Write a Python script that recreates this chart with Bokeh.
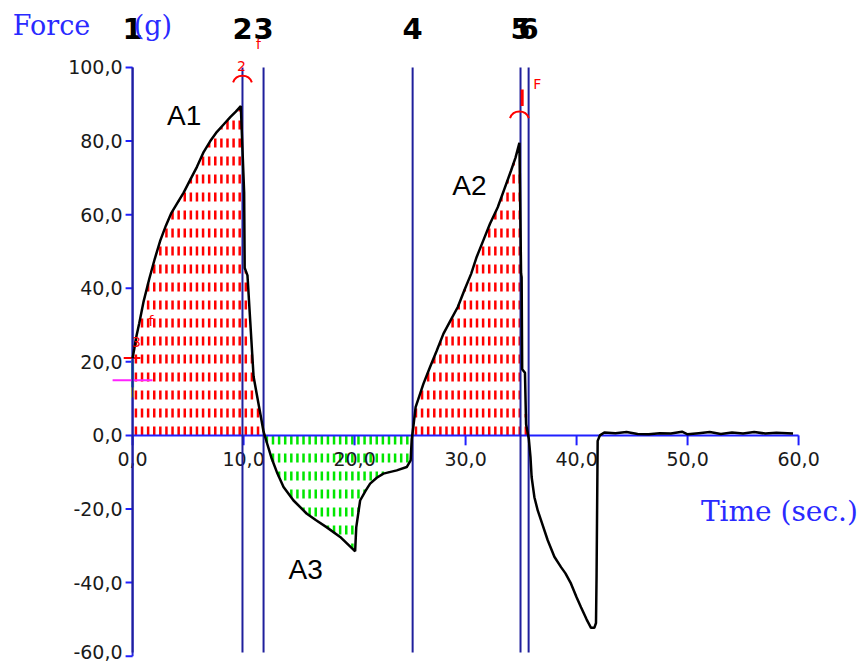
import numpy as np
from bokeh.plotting import figure
from bokeh.core.properties import value
from bokeh.embed import file_html
from bokeh.resources import INLINE

# ---- data -------------------------------------------------------------
time = [0.0, 0.15, 0.35, 0.6, 1.0, 1.5, 2.0, 2.5, 3.0, 3.5, 4.0, 4.6, 5.2, 5.8,
        6.4, 7.0, 7.6, 8.2, 8.8, 9.3, 9.75, 10.05, 10.1, 10.35, 10.6, 10.9, 11.2,
        11.5, 11.8, 12.1, 12.5, 13.0, 13.6, 14.5, 15.7, 16.5, 17.5, 18.7, 19.8,
        20.05, 20.15, 20.5, 21.0, 21.4, 22.0, 22.6, 23.8, 24.7, 25.05, 25.15,
        25.3, 25.5, 26.2, 26.8, 27.4, 28.0, 28.6, 29.3, 29.9, 30.5, 31.0, 31.6,
        32.2, 32.9, 33.5, 34.1, 34.5, 34.85, 35.0, 35.05, 35.1, 35.35, 35.45,
        35.7, 35.85, 35.95, 36.2, 36.5, 36.9, 37.4, 38.0, 38.6, 39.0, 39.5, 40.0,
        40.4, 40.9, 41.3, 41.6, 41.75, 41.8, 41.9, 42.1, 42.5, 43.5, 44.5, 45.5,
        46.5, 47.5, 48.5, 49.5, 50.0, 51.0, 52.0, 53.0, 54.0, 55.0, 56.0, 57.0,
        58.0, 59.5]
force = [21.0, 23.5, 27.0, 30.5, 36.5, 42.5, 48.0, 53.0, 57.0, 60.5, 63.0, 66.0,
         69.5, 73.0, 77.0, 80.0, 82.5, 84.5, 86.5, 88.0, 89.5, 66.0, 45.5, 43.5,
         31.0, 16.0, 11.0, 6.0, 1.0, -2.0, -6.0, -10.0, -14.0, -17.7, -21.3,
         -23.0, -25.0, -27.6, -30.8, -31.5, -25.0, -17.7, -15.0, -13.1, -11.5,
         -10.4, -9.5, -8.6, -6.8, -1.0, 2.5, 7.7, 14.0, 18.6, 23.0, 27.6, 31.0,
         34.9, 39.5, 43.9, 48.5, 53.0, 57.5, 62.0, 67.0, 72.0, 75.5, 79.5, 44.0,
         43.0, 18.0, 17.0, 3.0, -1.0, -6.0, -11.3, -16.8, -20.4, -24.0, -28.5,
         -33.0, -35.8, -37.5, -40.3, -44.0, -46.7, -50.0, -52.3, -52.3, -51.0,
         -38.5, -1.5, 0.0, 0.8, 0.6, 0.9, 0.4, 0.3, 0.6, 0.5, 1.0, 0.3, 0.6, 0.9,
         0.4, 0.8, 0.5, 0.9, 0.5, 0.7, 0.5]

cursor_t = [0.0, 9.9, 11.8, 25.23, 34.95, 35.68]
cursor_names = ["1", "2", "3", "4", "5", "6"]

y_ticks = [-60, -40, -20, 0, 20, 40, 60, 80, 100]
y_tick_labels = ["-60,0", "-40,0", "-20,0", "0,0", "20,0", "40,0", "60,0", "80,0", "100,0"]
x_ticks = [0, 10, 20, 30, 40, 50, 60]
x_tick_labels = ["0,0", "10,0", "20,0", "30,0", "40,0", "50,0", "60,0"]

area_names = ["A1", "A2", "A3"]
area_t = [3.1, 28.8, 14.05]
area_f = [87.0, 67.9, -36.4]

mark_text = ["2", "f", "F", "3", "f"]
mark_t = [9.8, 11.35, 36.45, 0.35, 1.65]
mark_f = [100.5, 106.5, 95.5, 25.5, 31.0]

AXIS_BLUE = "#2020ff"
TEXT_BLUE = "#2a2aff"

# ---- figure (frame fills the whole page) ------------------------------
p = figure(width=862, height=663, x_range=(-11.9, 65.76), y_range=(-62.0, 118.2),
           output_backend="svg", toolbar_location=None, x_axis_location=None,
           y_axis_location=None, min_border=0)
p.grid.visible = False
p.outline_line_color = None
p.background_fill_color = "white"

# ---- hatching of the areas -------------------------------------------
def hatch(t0, t1, sign):
    xs = np.arange(t0 + 0.3, t1, 0.55)
    tops = np.interp(xs, time, force)
    keep = tops * sign > 0
    return xs[keep], tops[keep]

for (i0, i1, sign, col) in [(0, 2, 1, "#ff0000"), (3, 5, 1, "#ff0000"),
                            (2, 3, -1, "#00e600")]:
    hx, ht = hatch(cursor_t[i0], cursor_t[i1], sign)
    p.segment(x0=hx, y0=0, x1=hx, y1=ht, line_color=col, line_width=2.5,
              line_dash="9 9")

# ---- y axis at t = 0 --------------------------------------------------
p.segment(x0=[0], y0=[y_ticks[0]], x1=[0], y1=[y_ticks[-1]],
          line_color="#2b2bd6", line_width=2)
p.segment(x0=0, y0=y_ticks, x1=-0.63, y1=y_ticks, line_color=AXIS_BLUE,
          line_width=2)
label_shift = [-4 if t == y_ticks[0] else 0 for t in y_ticks]
p.text(x=0, y=y_ticks, text=y_tick_labels, text_font=value("DejaVu Sans"),
       text_font_size="19px", text_color="#1a1a1a", text_align="right",
       text_baseline="middle", x_offset=-10, y_offset=label_shift)

# ---- x axis drawn at zero --------------------------------------------
p.segment(x0=[x_ticks[0]], y0=[0], x1=[x_ticks[-1]], y1=[0],
          line_color=AXIS_BLUE, line_width=2)
p.segment(x0=x_ticks, y0=0, x1=x_ticks, y1=-2.7, line_color=AXIS_BLUE,
          line_width=2)
p.text(x=x_ticks, y=0, text=x_tick_labels, text_font=value("DejaVu Sans"),
       text_font_size="19px", text_color="#1a1a1a", text_align="center",
       text_baseline="middle", y_offset=24)

# small markers on the y axis
p.segment(x0=[0, 0], y0=[20.4, 13.0], x1=[0, 0], y1=[13.0, 10.3],
          line_color=["#2aa0a0", "#f0f000"], line_width=3)
p.segment(x0=[-1.8], y0=[15.0], x1=[1.8], y1=[15.0], line_color="#ff22ff",
          line_width=2)
p.segment(x0=[-0.8], y0=[21.0], x1=[0.7], y1=[21.0], line_color="#ff0000",
          line_width=2)

# ---- cursor lines -----------------------------------------------------
p.segment(x0=cursor_t, y0=y_ticks[-1], x1=cursor_t, y1=y_ticks[0] + 1,
          line_color="#1f1f9c", line_width=2)

# red cursor marks
p.arc(x=[cursor_t[1], cursor_t[4] - 0.1], y=[95.0, 85.3], radius=0.9,
      start_angle=0.35, end_angle=np.pi - 0.35, line_color="#ff0000",
      line_width=2)
p.segment(x0=[cursor_t[4] + 0.15], y0=[89.5], x1=[cursor_t[4] + 0.15],
          y1=[94.0], line_color="#ff0000", line_width=3)

# ---- force curve ------------------------------------------------------
p.line(time, force, line_color="black", line_width=2.5)

# ---- texts ------------------------------------------------------------
p.text(x=mark_t, y=mark_f, text=mark_text, text_font=value("DejaVu Sans"),
       text_font_size="14px", text_color="#ff0000", text_align="center",
       text_baseline="middle")

p.text(x=area_t, y=area_f, text=area_names, text_font=value("Liberation Sans"),
       text_font_size="28px", text_color="black", text_align="left",
       text_baseline="middle")

p.text(x=cursor_t, y=110.7, text=cursor_names, text_font=value("DejaVu Sans"),
       text_font_style="bold", text_font_size="29px", text_color="black",
       text_align="center", text_baseline="middle")

p.text(x=[-10.8, 0.1], y=[111.4, 111.4], text=["Force", "(g)"],
       text_font=value("DejaVu Serif"), text_font_size="27px",
       text_color=TEXT_BLUE, text_align="left", text_baseline="middle")
p.text(x=[51.2], y=[-20.7], text=["Time (sec.)"], text_font=value("DejaVu Serif"),
       text_font_size="28px", text_color=TEXT_BLUE, text_align="left",
       text_baseline="middle")

open("out.html", "w").write(file_html(p, INLINE))
